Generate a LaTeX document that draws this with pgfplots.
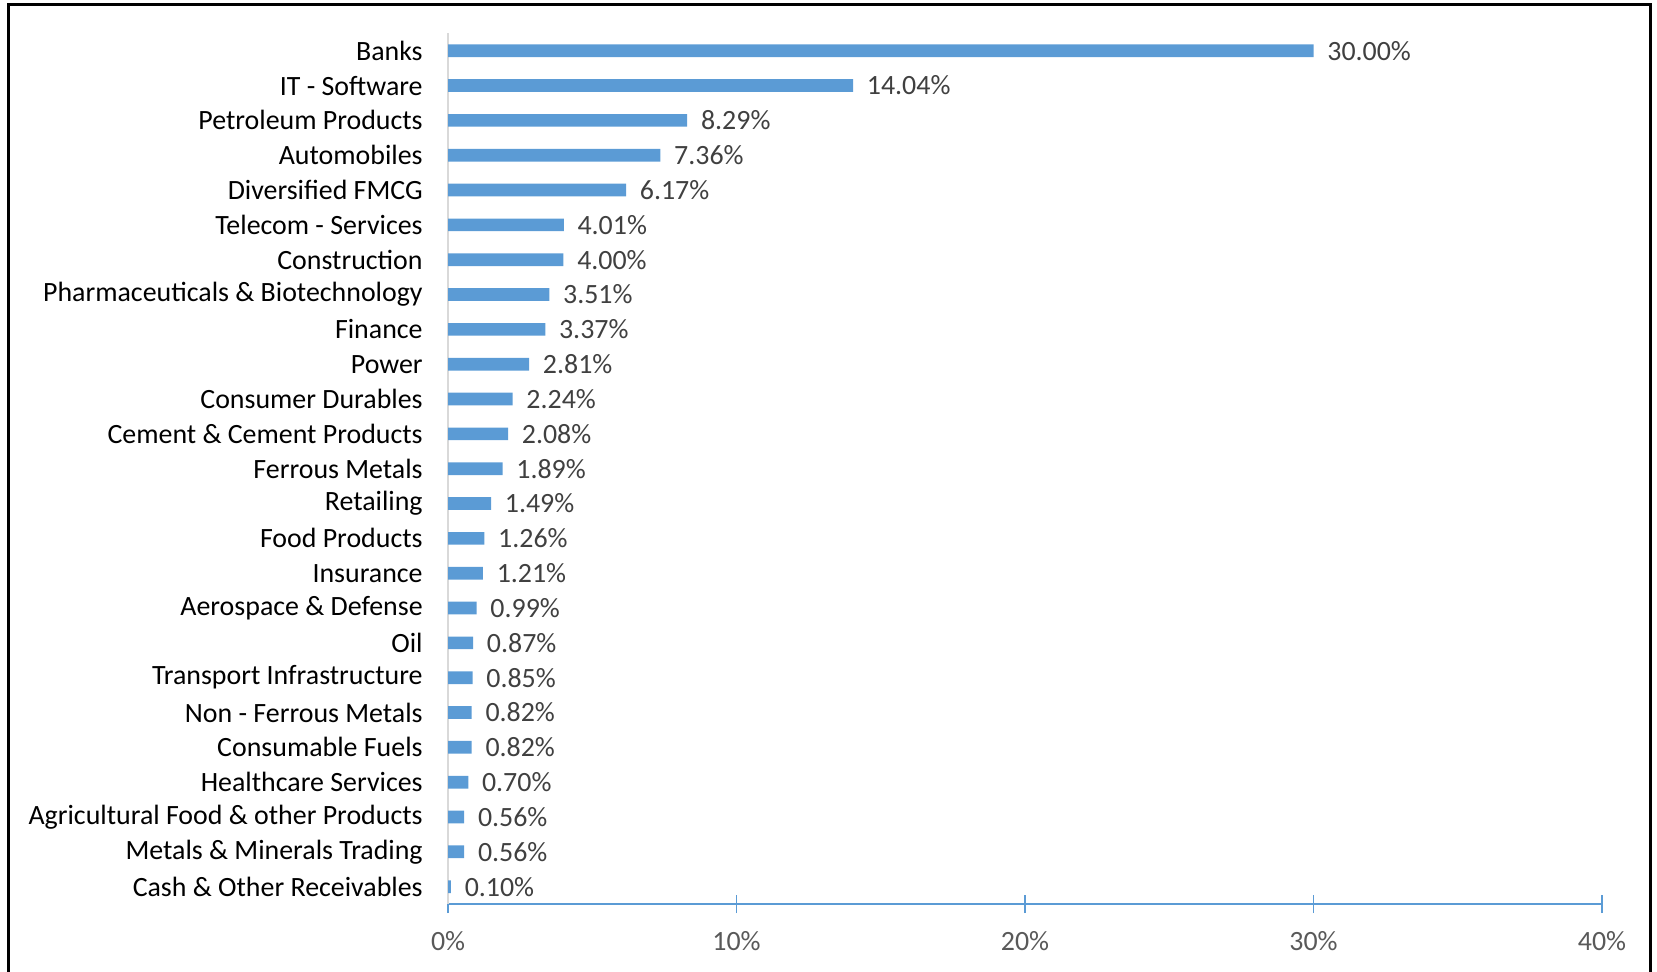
\documentclass[border=0pt]{standalone}
\usepackage{fontspec}
\setmainfont{Carlito}
\usepackage{pgfplots}
\pgfplotsset{compat=1.18}
\definecolor{barblue}{HTML}{5B9BD5}
\definecolor{lbl}{HTML}{404040}
\definecolor{tck}{HTML}{595959}
\definecolor{ygrid}{HTML}{D9D9D9}

\begin{document}
\begin{tikzpicture}
    % outer frame, bottom edge falls outside the picture
    \draw[line width=1.3pt] (4pt,-2pt) rectangle (781pt,-480pt);
    \begin{axis}[
        at={(212pt,-427.75pt)}, anchor=south west,
        scale only axis,
        width=546pt, height=412pt,
        xbar,
        bar width=6pt,
        xmin=0, xmax=40,
        ymin=-0.5, ymax=24.5,
        y dir=reverse,
        ytick={0,...,24},
        yticklabels={Banks, IT - Software, Petroleum Products, Automobiles, Diversified FMCG,
            Telecom - Services, Construction, Pharmaceuticals \& Biotechnology, Finance, Power,
            Consumer Durables, Cement \& Cement Products, Ferrous Metals, Retailing, Food Products,
            Insurance, Aerospace \& Defense, Oil, Transport Infrastructure, Non - Ferrous Metals,
            Consumable Fuels, Healthcare Services, Agricultural Food \& other Products,
            Metals \& Minerals Trading, Cash \& Other Receivables},
        xtick={0,10,20,30,40},
        xticklabel={\pgfmathprintnumber{\tick}\%},
        /pgf/number format/assume math mode=true,
        axis x line*=bottom,
        axis y line*=left,
        x axis line style={draw=barblue, line width=0.8pt, -},
        y axis line style={draw=ygrid, line width=0.8pt, -},
        xtick style={draw=barblue, line width=0.8pt},
        xtick align=center,
        major tick length=8.5pt,
        ytick style={draw=none},
        tick label style={font=\fontsize{13.2}{15}\selectfont},
        yticklabel style={text=black, xshift=0pt},
        xticklabel style={text=tck, yshift=-5pt},
        nodes near coords={\pgfmathprintnumber[fixed,fixed zerofill,precision=2]{\pgfplotspointmeta}\%},
        point meta=x,
        every node near coord/.append style={font=\fontsize{13.2}{15}\selectfont, text=lbl, anchor=west, xshift=3pt},
        clip=false,
    ]
    \addplot[fill=barblue, draw=none] coordinates {
        (30.00,0) (14.04,1) (8.29,2) (7.36,3) (6.17,4)
        (4.01,5) (4.00,6) (3.51,7) (3.37,8) (2.81,9)
        (2.24,10) (2.08,11) (1.89,12) (1.49,13) (1.26,14)
        (1.21,15) (0.99,16) (0.87,17) (0.85,18) (0.82,19)
        (0.82,20) (0.70,21) (0.56,22) (0.56,23) (0.10,24)
    };
    \end{axis}
    \pgfresetboundingbox
    \useasboundingbox (0pt,0pt) rectangle (784pt,-459.5pt);
\end{tikzpicture}
\end{document}
